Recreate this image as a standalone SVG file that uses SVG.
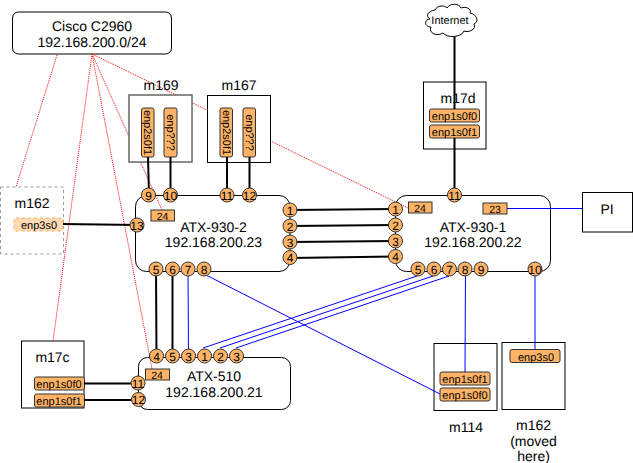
<svg xmlns="http://www.w3.org/2000/svg" width="633" height="463" viewBox="0 0 633 463">
<style>
text{font-family:"Liberation Sans",Arial,sans-serif;fill:#000;text-anchor:middle;text-rendering:geometricPrecision}
.t{font-size:14px}
.box{fill:#fff;stroke:#000;stroke-width:1}
.open{fill:none;stroke:#000;stroke-width:1}
.port{fill:#ffb366;stroke:#333;stroke-width:1}
.pt{font-size:11px}
.n{font-size:12px}
.g{font-size:10.500px}
.pc{fill:#ffb366;stroke:#333;stroke-width:1}
.red{stroke:#ff0000;stroke-width:1;stroke-dasharray:1 1;fill:none}
.blk{stroke:#000;stroke-width:2;fill:none}
.blu{stroke:#0000ff;stroke-width:1;fill:none}
.tag{fill:#ffb366;stroke:#333;stroke-width:1}
</style>
<rect width="633" height="463" fill="#fff"/>
<g id="cisco"><rect class="box" x="12.500" y="12" width="159" height="42" rx="6"/><text class="t" x="92" y="31">Cisco C2960</text><text class="t" x="92" y="47">192.168.200.0/24</text></g>
<g id="atx2"><rect class="box" x="135.500" y="195.500" width="154.500" height="76" rx="11"/><text class="t" x="213.500" y="232">ATX-930-2</text><text class="t" x="213.500" y="247">192.168.200.23</text></g>
<g id="atx1"><rect class="box" x="395.500" y="195.500" width="155" height="76" rx="11"/><text class="t" x="473" y="232">ATX-930-1</text><text class="t" x="473" y="247">192.168.200.22</text></g>
<g id="atx510"><rect class="box" x="138.500" y="357.500" width="152" height="52" rx="9"/><text class="t" x="214" y="381">ATX-510</text><text class="t" x="214" y="397">192.168.200.21</text></g>
<g id="connectors-red">
<path class="red" d="M57 55L16 187M92 54L53 341M92 54L152 369M92 54L162 210M92 54L408 208"/>
</g>
<g id="m169"><rect class="box" style="stroke:#666;stroke-width:1.500" x="129" y="95" width="63" height="67"/><text class="t" x="161" y="90">m169</text>
<rect class="port" x="141.500" y="108" width="12.500" height="49" rx="2"/><text class="pt" transform="translate(144 132.500) rotate(90)">enp2s0f1</text>
<rect class="port" x="164" y="108" width="13" height="49" rx="2"/><text class="pt" transform="translate(166.500 132.500) rotate(90)">enp???</text></g>
<g id="m167"><rect class="box" x="207.500" y="95.500" width="63" height="67"/><text class="t" x="239" y="90">m167</text>
<rect class="port" x="220" y="108" width="12.500" height="49" rx="2"/><text class="pt" transform="translate(222.500 132.500) rotate(90)">enp2s0f1</text>
<rect class="port" x="243" y="108" width="12.500" height="49" rx="2"/><text class="pt" transform="translate(245.500 132.500) rotate(90)">enp???</text></g>
<g id="m162-old"><rect x="0.500" y="187" width="63" height="67" fill="#fff" stroke="#999" stroke-dasharray="3 3"/><text class="t" x="32" y="208">m162</text>
<rect x="14" y="218" width="49" height="13" rx="2" fill="#ffb366" fill-opacity=".5" stroke="#ffb366" stroke-dasharray="3 3"/><text class="pt" x="39" y="229">enp3s0</text></g>
<g id="m17c"><rect class="box" x="21.500" y="341" width="62.500" height="67"/><text class="t" x="52.500" y="362">m17c</text>
<rect class="port" x="34.500" y="377" width="50" height="13" rx="2"/><text class="pt" x="59" y="388">enp1s0f0</text>
<rect class="port" x="34.500" y="394" width="50" height="13" rx="2"/><text class="pt" x="59" y="404.500">enp1s0f1</text></g>
<g id="m17d"><rect class="box" x="423.500" y="82" width="62.500" height="67"/><text class="t" x="458" y="103">m17d</text>
<rect class="port" x="429.500" y="109" width="50" height="13" rx="2"/><text class="pt" x="454.500" y="120">enp1s0f0</text>
<rect class="port" x="429.500" y="125" width="50" height="13" rx="2"/><text class="pt" x="454.500" y="136">enp1s0f1</text></g>
<g id="m114"><rect class="box" x="434" y="343.500" width="63" height="67"/><text class="t" x="466" y="432">m114</text>
<rect class="port" x="440" y="372" width="50" height="13" rx="2"/><text class="pt" x="465" y="383">enp1s0f1</text>
<rect class="port" x="440" y="388" width="50" height="13" rx="2"/><text class="pt" x="465" y="399">enp1s0f0</text></g>
<g id="m162"><rect class="box" x="502" y="342.500" width="63" height="67"/><text class="t" x="533.500" y="430">m162</text><text class="t" x="533.500" y="446">(moved</text><text class="t" x="533.500" y="461">here)</text>
<rect class="port" x="510" y="349.500" width="50" height="13" rx="2"/><text class="pt" x="536" y="360.500">enp3s0</text></g>
<g id="pi"><rect class="box" x="582.500" y="192.500" width="50" height="39.500"/><text class="t" x="607" y="214">PI</text></g>
<g id="internet"><path d="M435 10C437 5 445 5 447 8C450 3 459 3 461 8C466 6 472 9 470 13C476 14 480 21 474 24C477 29 469 33 464 31C461 38 447 38 443 33C437 37 428 33 431 27C424 27 424 19 430 19C425 16 428 11 435 10Z" fill="#fff" stroke="#000"/><text class="pt" x="450" y="24">Internet</text></g>
<g id="connectors">
<path class="blk" d="M148 157L149 195M170.500 157V195M227 157V195M249.500 157V195M63 224L137 225M290 210L395 209M290 226L395 225M290 242L395 241M290 258L395 256.500M156 269L156.500 356M172.500 269V356M84 383.500H138M84 400H138M454.500 37V109M454.500 138V195"/>
<path class="blu" d="M188 269L188.500 356M204 274L440 394M203 348L417 276M220 348L433 276M236 348L449 276M465.500 269L465 372M535 269V349.500M507 208.500H582.500"/>
</g>
<g id="tags">
<rect class="tag" x="151" y="210" width="23.500" height="11"/><text class="g" x="162.500" y="219.500">24</text>
<rect class="tag" x="408.500" y="202" width="23.500" height="11"/><text class="g" x="420" y="211.500">24</text>
<rect class="tag" x="483" y="203" width="24" height="11"/><text class="g" x="495" y="212.500">23</text>
<rect class="tag" x="145.500" y="369" width="24" height="11"/><text class="g" x="157" y="378.500">24</text>
</g>
<g id="ports-atx2">
<circle class="pc" cx="148.500" cy="195" r="7"/><text class="n" x="148.500" y="199.500">9</text>
<circle class="pc" cx="170.500" cy="195" r="7"/><text class="n" x="170.500" y="199.500">10</text>
<circle class="pc" cx="227" cy="195" r="7"/><text class="n" x="227" y="199.500">11</text>
<circle class="pc" cx="249.500" cy="195" r="7"/><text class="n" x="249.500" y="199.500">12</text>
<circle class="pc" cx="290" cy="210" r="7"/><text class="n" x="290" y="214.500">1</text>
<circle class="pc" cx="290" cy="226" r="7"/><text class="n" x="290" y="230.500">2</text>
<circle class="pc" cx="290" cy="242" r="7"/><text class="n" x="290" y="246.500">3</text>
<circle class="pc" cx="290" cy="257.500" r="7"/><text class="n" x="290" y="262">4</text>
<circle class="pc" cx="137" cy="225" r="7"/><text class="n" x="137" y="229.500">13</text>
<circle class="pc" cx="156" cy="269" r="7"/><text class="n" x="156" y="273.500">5</text>
<circle class="pc" cx="172.500" cy="269" r="7"/><text class="n" x="172.500" y="273.500">6</text>
<circle class="pc" cx="188" cy="269" r="7"/><text class="n" x="188" y="273.500">7</text>
<circle class="pc" cx="204" cy="269" r="7"/><text class="n" x="204" y="273.500">8</text>
</g>
<g id="ports-atx1">
<circle class="pc" cx="395.500" cy="209" r="7"/><text class="n" x="395.500" y="213.500">1</text>
<circle class="pc" cx="395.500" cy="225" r="7"/><text class="n" x="395.500" y="229.500">2</text>
<circle class="pc" cx="395.500" cy="241" r="7"/><text class="n" x="395.500" y="245.500">3</text>
<circle class="pc" cx="395.500" cy="256.500" r="7"/><text class="n" x="395.500" y="261">4</text>
<circle class="pc" cx="454.500" cy="195" r="7"/><text class="n" x="454.500" y="199.500">11</text>
<circle class="pc" cx="418" cy="269" r="7"/><text class="n" x="418" y="273.500">5</text>
<circle class="pc" cx="434" cy="269" r="7"/><text class="n" x="434" y="273.500">6</text>
<circle class="pc" cx="449.500" cy="269" r="7"/><text class="n" x="449.500" y="273.500">7</text>
<circle class="pc" cx="465" cy="269" r="7"/><text class="n" x="465" y="273.500">8</text>
<circle class="pc" cx="481" cy="269" r="7"/><text class="n" x="481" y="273.500">9</text>
<circle class="pc" cx="535" cy="269" r="7"/><text class="n" x="535" y="273.500">10</text>
</g>
<g id="ports-atx510">
<circle class="pc" cx="156.500" cy="356" r="7"/><text class="n" x="156.500" y="360.500">4</text>
<circle class="pc" cx="172.500" cy="356" r="7"/><text class="n" x="172.500" y="360.500">5</text>
<circle class="pc" cx="188.500" cy="356" r="7"/><text class="n" x="188.500" y="360.500">3</text>
<circle class="pc" cx="204.500" cy="356" r="7"/><text class="n" x="204.500" y="360.500">1</text>
<circle class="pc" cx="220.500" cy="356" r="7"/><text class="n" x="220.500" y="360.500">2</text>
<circle class="pc" cx="236.500" cy="356" r="7"/><text class="n" x="236.500" y="360.500">3</text>
<circle class="pc" cx="138" cy="383" r="7"/><text class="n" x="138" y="387.500">11</text>
<circle class="pc" cx="138.500" cy="399.500" r="7"/><text class="n" x="138.500" y="404">12</text>
</g>
</svg>
